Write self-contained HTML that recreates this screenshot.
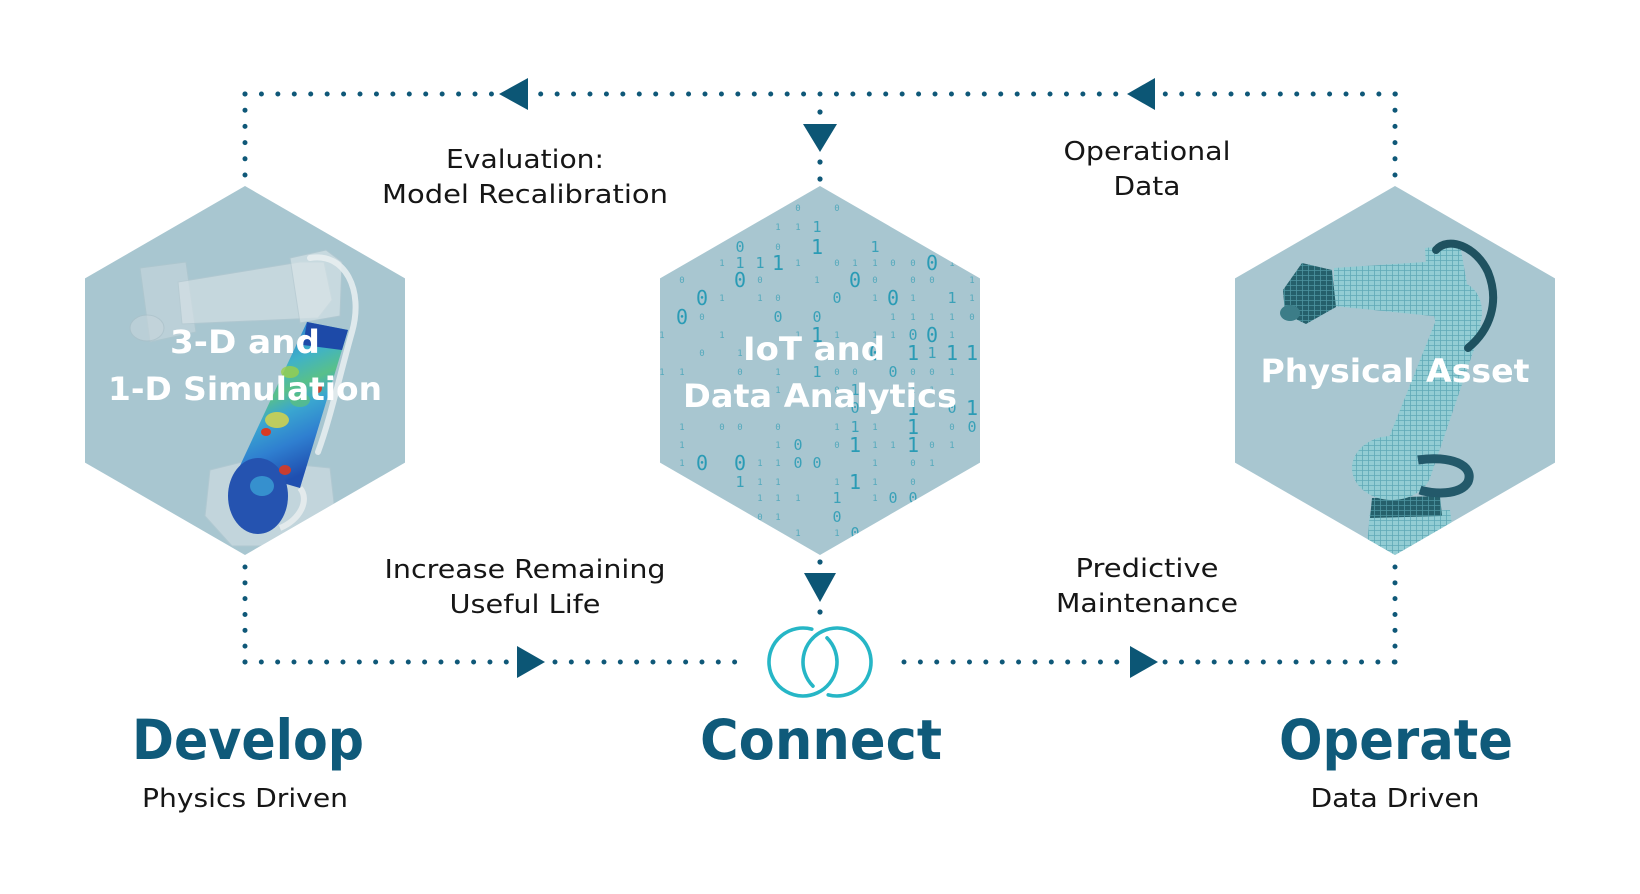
<!DOCTYPE html>
<html>
<head>
<meta charset="utf-8">
<style>
  html, body { margin: 0; padding: 0; background: #ffffff; }
  body { width: 1640px; height: 894px; overflow: hidden; }
  svg { display: block; }
  .lbl { font-family: "DejaVu Sans", "Liberation Sans", sans-serif; font-size: 26px; fill: #161616; text-anchor: middle; }
  .big { font-family: "DejaVu Sans", "Liberation Sans", sans-serif; font-weight: bold; font-size: 55px; fill: #0f5a7a; text-anchor: middle; }
  .hx { font-family: "DejaVu Sans", "Liberation Sans", sans-serif; font-weight: bold; font-size: 32px; fill: #ffffff; text-anchor: middle; }
  .dB { font-family: "DejaVu Sans Mono", "Liberation Mono", monospace; font-size: 20px; fill: #2a9bb5; text-anchor: middle; }
  .dM { font-family: "DejaVu Sans Mono", "Liberation Mono", monospace; font-size: 15px; fill: #3aa1b8; text-anchor: middle; }
  .dS { font-family: "DejaVu Sans Mono", "Liberation Mono", monospace; font-size: 9px; fill: #55a9bc; text-anchor: middle; }
</style>
</head>
<body>
<svg width="1640" height="894" viewBox="0 0 1640 894" xmlns="http://www.w3.org/2000/svg">
  <defs>
    <clipPath id="hexL"><polygon points="245,186 405,278.4 405,462.6 245,555 85,462.6 85,278.4"/></clipPath>
    <clipPath id="hexM"><polygon points="820,186 980,278.4 980,462.6 820,555 660,462.6 660,278.4"/></clipPath>
    <clipPath id="hexR"><polygon points="1395,186 1555,278.4 1555,462.6 1395,555 1235,462.6 1235,278.4"/></clipPath>
    <linearGradient id="fea" x1="0" y1="0" x2="0.3" y2="1">
      <stop offset="0" stop-color="#1f4fb0"/>
      <stop offset="0.18" stop-color="#2f86d0"/>
      <stop offset="0.35" stop-color="#3fb2c8"/>
      <stop offset="0.5" stop-color="#58c08a"/>
      <stop offset="0.62" stop-color="#3aa6d0"/>
      <stop offset="0.8" stop-color="#2f7fd0"/>
      <stop offset="1" stop-color="#1f4fb0"/>
    </linearGradient>
    <pattern id="mesh" width="6" height="5" patternUnits="userSpaceOnUse">
      <rect width="6" height="5" fill="#93cdd4"/>
      <path d="M0 0.4H6M0.4 0V5" stroke="#5fa9b6" stroke-width="0.8"/>
    </pattern>
    <pattern id="meshD" width="6" height="5" patternUnits="userSpaceOnUse">
      <rect width="6" height="5" fill="#25606b"/>
      <path d="M0 0.4H6M0.4 0V5" stroke="#4d95a0" stroke-width="0.8"/>
    </pattern>
  </defs>

  <rect width="1640" height="894" fill="#ffffff"/>

  <!-- ============ HEXAGONS ============ -->
  <!-- Left hex -->
  <polygon points="245,186 405,278.4 405,462.6 245,555 85,462.6 85,278.4" fill="#a8c6d0"/>
  <g clip-path="url(#hexL)">
    <!-- base -->
    <polygon points="210,470 250,460 330,468 336,520 300,546 232,546 205,516" fill="#d7e2e6" opacity="0.55" stroke="#b7cbd2" stroke-width="1"/>
    <!-- upper beam -->
    <polygon points="140,268 186,262 196,332 150,342" fill="#cfdbe0" opacity="0.5" stroke="#b2c7ce" stroke-width="1"/>
    <ellipse cx="147" cy="328" rx="17" ry="13" fill="#c7d6dc" opacity="0.6" stroke="#aabfc7"/>
    <polygon points="178,282 300,262 324,262 332,300 318,318 182,324" fill="#d9e3e7" opacity="0.6" stroke="#b5c9d0" stroke-width="1"/>
    <polygon points="290,258 326,250 342,262 340,316 300,323" fill="#dde6ea" opacity="0.6" stroke="#b5c9d0" stroke-width="1"/>
    <!-- tube -->
    <path d="M310 258 C 345 252, 364 290, 352 332 S 330 420, 318 452" fill="none" stroke="#e9eff1" stroke-width="6" stroke-linecap="round" opacity="0.85"/>
    <!-- lower arm FEA -->
    <polygon points="307,322 348,330 300,488 238,470" fill="url(#fea)"/>
    <polygon points="307,322 348,330 342,350 303,345" fill="#1d4aa8"/>
    <ellipse cx="290" cy="372" rx="9" ry="6" fill="#9ad04a" opacity="0.8"/>
    <ellipse cx="277" cy="420" rx="12" ry="8" fill="#d6d44a" opacity="0.85"/>
    <ellipse cx="266" cy="432" rx="5" ry="4" fill="#d83a22"/>
    <ellipse cx="318" cy="388" rx="4" ry="5" fill="#d83a22" opacity="0.9"/>
    <ellipse cx="300" cy="400" rx="10" ry="7" fill="#5cc27a" opacity="0.7"/>
    <ellipse cx="258" cy="496" rx="30" ry="38" fill="#2553b0"/>
    <ellipse cx="262" cy="486" rx="12" ry="10" fill="#3ba0d6" opacity="0.8"/>
    <ellipse cx="285" cy="470" rx="6" ry="5" fill="#d83a22" opacity="0.9"/>
    <path d="M300 488 C 310 500, 300 520, 280 528" fill="none" stroke="#e3eaec" stroke-width="6"/>
  </g>
  <text class="hx" x="245" y="353" textLength="150" lengthAdjust="spacingAndGlyphs">3-D and</text>
  <text class="hx" x="245" y="400" textLength="274" lengthAdjust="spacingAndGlyphs">1-D Simulation</text>

  <!-- Middle hex -->
  <polygon points="820,186 980,278.4 980,462.6 820,555 660,462.6 660,278.4" fill="#a8c6d0"/>
  <g clip-path="url(#hexM)">
    <text class="dS" x="798 837" y="211">00</text>
    <text class="dS" x="778 798" y="230">11</text>
    <text class="dM" x="817" y="232">1</text>
    <text class="dS" x="778" y="250">0</text>
    <text class="dM" x="740 875" y="252">01</text>
    <text class="dB" x="817" y="254">1</text>
    <text class="dS" x="722 798 837 855 875 893 913 952" y="266">11011001</text>
    <text class="dM" x="740 760" y="268">11</text>
    <text class="dB" x="778 932" y="270">10</text>
    <text class="dS" x="682 760 817 875 913 932 972" y="283">0010001</text>
    <text class="dB" x="740 855" y="287">00</text>
    <text class="dS" x="722 760 778 875 913 972" y="301">110111</text>
    <text class="dM" x="837 952" y="303">01</text>
    <text class="dB" x="702 893" y="305">00</text>
    <text class="dS" x="702 893 913 932 952 972" y="320">011110</text>
    <text class="dM" x="778 817" y="322">00</text>
    <text class="dB" x="682" y="324">0</text>
    <text class="dS" x="662 722 798 837 875 893 952" y="338">1111111</text>
    <text class="dM" x="913" y="340">0</text>
    <text class="dB" x="817 932" y="342">10</text>
    <text class="dS" x="702 740" y="356">01</text>
    <text class="dM" x="932" y="358">1</text>
    <text class="dB" x="875 913 952 972" y="360">0111</text>
    <text class="dS" x="662 682 740 778 837 855 913 932 952" y="375">110100001</text>
    <text class="dM" x="817 893" y="377">10</text>
    <text class="dS" x="778 837 913 932" y="393">1011</text>
    <text class="dM" x="855" y="395">1</text>
    <text class="dM" x="855 952" y="413">00</text>
    <text class="dB" x="913 972" y="415">11</text>
    <text class="dS" x="682 722 740 778 837 875 952" y="430">1000110</text>
    <text class="dM" x="855 972" y="432">10</text>
    <text class="dB" x="913" y="434">1</text>
    <text class="dS" x="682 778 837 875 893 932 952" y="448">1101101</text>
    <text class="dM" x="798" y="450">0</text>
    <text class="dB" x="855 913" y="452">11</text>
    <text class="dS" x="682 760 778 875 913 932" y="466">111101</text>
    <text class="dM" x="798 817" y="468">00</text>
    <text class="dB" x="702 740" y="470">00</text>
    <text class="dS" x="760 778 837 875 913" y="485">11110</text>
    <text class="dM" x="740" y="487">1</text>
    <text class="dB" x="855" y="489">1</text>
    <text class="dS" x="760 778 798 875" y="501">1111</text>
    <text class="dM" x="837 893 913" y="503">100</text>
    <text class="dS" x="760 778" y="520">01</text>
    <text class="dM" x="837" y="522">0</text>
    <text class="dS" x="798 837" y="536">11</text>
    <text class="dM" x="855" y="538">0</text>
  </g>
  <text class="hx" x="814" y="360" textLength="142" lengthAdjust="spacingAndGlyphs">IoT and</text>
  <text class="hx" x="820" y="407" textLength="274" lengthAdjust="spacingAndGlyphs">Data Analytics</text>

  <!-- Right hex -->
  <polygon points="1395,186 1555,278.4 1555,462.6 1395,555 1235,462.6 1235,278.4" fill="#a8c6d0"/>
  <g clip-path="url(#hexR)">
    <!-- base -->
    <polygon points="1370,512 1450,510 1456,556 1366,556" fill="url(#mesh)"/>
    <polygon points="1372,498 1440,496 1442,516 1370,518" fill="url(#meshD)"/>
    <!-- lower joint -->
    <ellipse cx="1392" cy="468" rx="40" ry="32" fill="url(#mesh)"/>
    <!-- lower arm -->
    <polygon points="1440,310 1482,326 1430,478 1380,460" fill="url(#mesh)"/>
    <path d="M1418 460 C 1450 455, 1475 465, 1468 482 C 1460 496, 1432 494, 1420 490" fill="none" stroke="#23596a" stroke-width="9"/>
    <!-- elbow / shoulder -->
    <ellipse cx="1458" cy="312" rx="24" ry="30" fill="url(#mesh)"/>
    <polygon points="1425,248 1460,244 1468,290 1428,296" fill="url(#mesh)"/>
    <!-- upper beam -->
    <path d="M1334 268 L1455 260 Q1470 288 1452 318 L1334 306 Z" fill="url(#mesh)"/>
    <!-- head -->
    <polygon points="1302,263 1332,270 1336,307 1306,324 1285,314 1283,290" fill="url(#meshD)"/>
    <ellipse cx="1290" cy="313" rx="10" ry="8" fill="#3c7d88"/>
    <!-- cable -->
    <path d="M1436 250 C 1448 236, 1476 246, 1488 272 C 1500 302, 1490 330, 1468 348" fill="none" stroke="#1f5260" stroke-width="8" stroke-linecap="round"/>
  </g>
  <text class="hx" x="1395" y="382" textLength="269" lengthAdjust="spacingAndGlyphs">Physical Asset</text>

  <!-- ============ DOTTED CONNECTORS ============ -->
  <g stroke="#0f5878" stroke-width="5" stroke-linecap="round" fill="none">
    <!-- top line -->
    <line x1="245" y1="94" x2="492" y2="94" stroke-dasharray="0 16.43"/>
    <line x1="540.7" y1="94" x2="1116.5" y2="94" stroke-dasharray="0 16.43"/>
    <line x1="1165.3" y1="94" x2="1396" y2="94" stroke-dasharray="0 16.43"/>
    <!-- top verticals -->
    <line x1="245" y1="94" x2="245" y2="176" stroke-dasharray="0 16.2"/>
    <line x1="1395" y1="94" x2="1395" y2="176" stroke-dasharray="0 16.2"/>
    <!-- bottom line -->
    <line x1="245" y1="662" x2="507" y2="662" stroke-dasharray="0 16.33"/>
    <line x1="555" y1="662" x2="736" y2="662" stroke-dasharray="0 16.33"/>
    <line x1="904" y1="662" x2="1117.5" y2="662" stroke-dasharray="0 16.37"/>
    <line x1="1165.1" y1="662" x2="1396" y2="662" stroke-dasharray="0 16.37"/>
    <!-- bottom verticals -->
    <line x1="245" y1="567" x2="245" y2="663" stroke-dasharray="0 15.83"/>
    <line x1="1395" y1="567" x2="1395" y2="663" stroke-dasharray="0 15.83"/>
  </g>
  <g fill="#0f5878">
    <circle cx="820" cy="112" r="2.6"/>
    <circle cx="820" cy="162" r="2.6"/>
    <circle cx="820" cy="179" r="2.6"/>
    <circle cx="820" cy="562" r="2.6"/>
    <circle cx="820" cy="612" r="2.6"/>
  </g>
  <!-- arrowheads -->
  <g fill="#0c5675">
    <polygon points="499,94 528,78 528,110"/>
    <polygon points="1127,94 1155,78 1155,110"/>
    <polygon points="803,124 837,124 820,152"/>
    <polygon points="804,573 836,573 820,602"/>
    <polygon points="545,662 517,646 517,678"/>
    <polygon points="1158,662 1130,646 1130,678"/>
  </g>

  <!-- interlocking rings -->
  <g fill="none" stroke="#26b6c6" stroke-width="3.6" stroke-linecap="round">
    <path d="M 827.04 637.96 A 34 34 0 1 1 811.8 629.16"/>
    <path d="M 812.96 686.04 A 34 34 0 1 1 828.2 694.84"/>
  </g>

  <!-- ============ LABELS ============ -->
  <text class="lbl" x="525" y="168" textLength="158" lengthAdjust="spacingAndGlyphs">Evaluation:</text>
  <text class="lbl" x="525" y="203" textLength="286" lengthAdjust="spacingAndGlyphs">Model Recalibration</text>

  <text class="lbl" x="1147" y="160" textLength="167" lengthAdjust="spacingAndGlyphs">Operational</text>
  <text class="lbl" x="1147" y="195" textLength="67" lengthAdjust="spacingAndGlyphs">Data</text>

  <text class="lbl" x="525" y="578" textLength="281" lengthAdjust="spacingAndGlyphs">Increase Remaining</text>
  <text class="lbl" x="525" y="613" textLength="151" lengthAdjust="spacingAndGlyphs">Useful Life</text>

  <text class="lbl" x="1147" y="577" textLength="143" lengthAdjust="spacingAndGlyphs">Predictive</text>
  <text class="lbl" x="1147" y="612" textLength="182" lengthAdjust="spacingAndGlyphs">Maintenance</text>

  <text class="big" x="248" y="759" textLength="232" lengthAdjust="spacingAndGlyphs">Develop</text>
  <text class="big" x="821" y="759" textLength="242" lengthAdjust="spacingAndGlyphs">Connect</text>
  <text class="big" x="1396" y="759" textLength="234" lengthAdjust="spacingAndGlyphs">Operate</text>

  <text class="lbl" x="245" y="807" textLength="206" lengthAdjust="spacingAndGlyphs">Physics Driven</text>
  <text class="lbl" x="1395" y="807" textLength="169" lengthAdjust="spacingAndGlyphs">Data Driven</text>
</svg>
</body>
</html>
